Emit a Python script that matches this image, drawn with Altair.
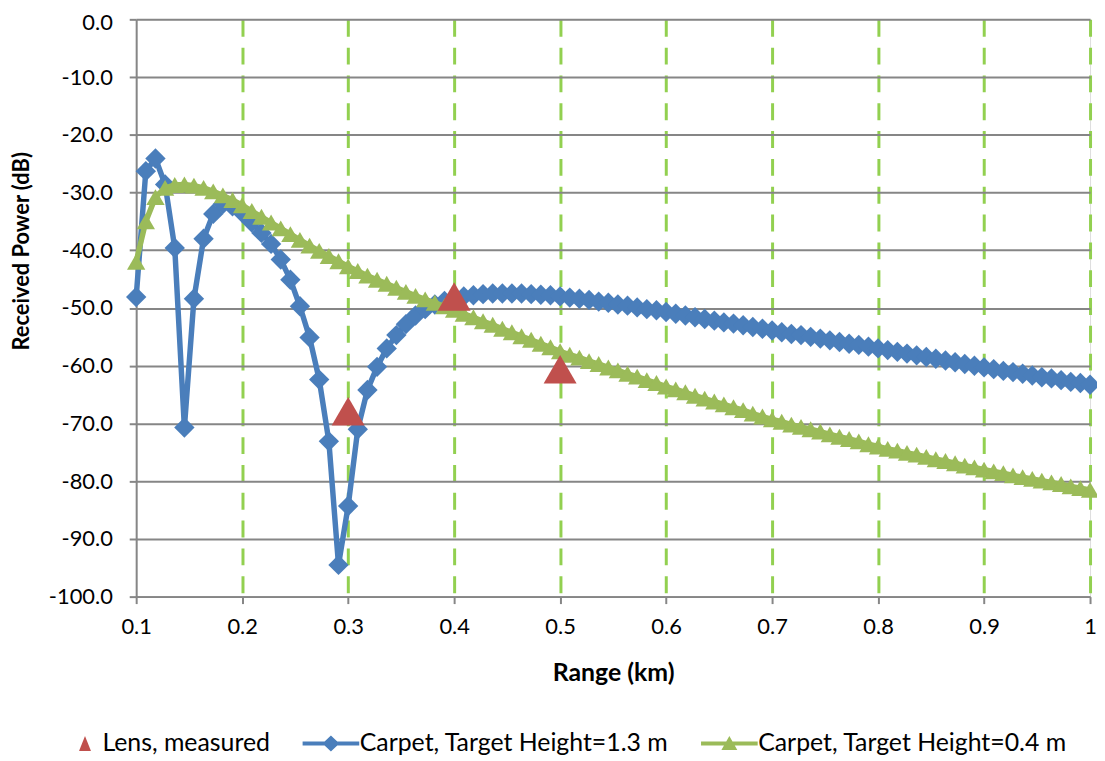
import altair as alt
import pandas as pd

# ---------------- data ----------------
range_km = [
    0.1, 0.1091, 0.1182, 0.1273, 0.1364, 0.1455, 0.1545, 0.1636, 0.1727, 0.1818, 0.1909,
    0.2, 0.2091, 0.2182, 0.2273, 0.2364, 0.2455, 0.2545, 0.2636, 0.2727, 0.2818, 0.2909,
    0.3, 0.3091, 0.3182, 0.3273, 0.3364, 0.3455, 0.3545, 0.3636, 0.3727, 0.3818, 0.3909,
    0.4, 0.4091, 0.4182, 0.4273, 0.4364, 0.4455, 0.4545, 0.4636, 0.4727, 0.4818, 0.4909,
    0.5, 0.5091, 0.5182, 0.5273, 0.5364, 0.5455, 0.5545, 0.5636, 0.5727, 0.5818, 0.5909,
    0.6, 0.6091, 0.6182, 0.6273, 0.6364, 0.6455, 0.6545, 0.6636, 0.6727, 0.6818, 0.6909,
    0.7, 0.7091, 0.7182, 0.7273, 0.7364, 0.7455, 0.7545, 0.7636, 0.7727, 0.7818, 0.7909,
    0.8, 0.8091, 0.8182, 0.8273, 0.8364, 0.8455, 0.8545, 0.8636, 0.8727, 0.8818, 0.8909,
    0.9, 0.9091, 0.9182, 0.9273, 0.9364, 0.9455, 0.9545, 0.9636, 0.9727, 0.9818, 0.9909,
    1.0,
]

carpet_13m = [
    -48.1, -26.3, -24.1, -28.6, -39.6, -70.7, -48.4, -38.0, -33.7, -32.0, -32.4,
    -33.5, -35.2, -37.0, -38.9, -41.6, -45.1, -49.7, -55.1, -62.4, -73.1, -94.5,
    -84.3, -71.0, -64.2, -60.2, -57.0, -54.7, -52.8, -51.3, -50.2, -49.4, -48.8,
    -48.3, -48.0, -47.8, -47.6, -47.5, -47.5, -47.5, -47.5, -47.6, -47.7, -47.8,
    -48.0, -48.2, -48.4, -48.6, -48.9, -49.1, -49.4, -49.6, -49.9, -50.2, -50.4,
    -50.7, -51.0, -51.3, -51.6, -51.9, -52.2, -52.5, -52.7, -53.0, -53.3, -53.6,
    -53.9, -54.2, -54.5, -54.7, -55.0, -55.3, -55.6, -55.9, -56.2, -56.4, -56.7,
    -57.0, -57.3, -57.6, -57.9, -58.2, -58.5, -58.8, -59.1, -59.4, -59.7, -60.0,
    -60.3, -60.6, -60.9, -61.1, -61.4, -61.7, -62.0, -62.2, -62.5, -62.8, -63.0,
    -63.3,
]

carpet_04m = [
    -42.0, -35.0, -30.8, -29.2, -28.7, -28.6, -28.8, -29.2, -29.8, -30.5, -31.3,
    -32.2, -33.2, -34.2, -35.2, -36.2, -37.2, -38.2, -39.2, -40.1, -41.0, -41.9,
    -42.8, -43.6, -44.4, -45.1, -45.8, -46.5, -47.2, -47.9, -48.5, -49.1, -49.7,
    -50.3, -51.0, -51.6, -52.3, -52.9, -53.6, -54.2, -54.9, -55.5, -56.2, -56.8,
    -57.5, -58.1, -58.6, -59.2, -59.7, -60.3, -60.8, -61.4, -61.9, -62.5, -63.0,
    -63.6, -64.1, -64.6, -65.2, -65.7, -66.2, -66.7, -67.2, -67.7, -68.3, -68.8,
    -69.3, -69.7, -70.2, -70.6, -71.0, -71.4, -71.9, -72.3, -72.7, -73.1, -73.6,
    -74.0, -74.4, -74.7, -75.1, -75.4, -75.8, -76.2, -76.5, -76.9, -77.3, -77.6,
    -78.0, -78.3, -78.6, -79.0, -79.3, -79.6, -79.9, -80.2, -80.5, -80.9, -81.2,
    -81.5,
]

lens_range = [0.3, 0.4, 0.5]
lens_power = [-67.9, -48.0, -60.6]

series_names = ["Lens, measured", "Carpet, Target Height=1.3 m", "Carpet, Target Height=0.4 m"]
x_ticks = [0.1, 0.2, 0.3, 0.4, 0.5, 0.6, 0.7, 0.8, 0.9, 1.0]
y_ticks = [-100, -90, -80, -70, -60, -50, -40, -30, -20, -10, 0]

# ---------------- styling ----------------
FONT = "Lato"
BLUE = "#4A7EBB"
GREEN = "#9BBB59"
RED = "#C0504D"
GRID_GREEN = "#92D050"
AXIS_GRAY = "#868686"

df13 = pd.DataFrame({"range": range_km, "power": carpet_13m})
df04 = pd.DataFrame({"range": range_km, "power": carpet_04m})
dflens = pd.DataFrame({"range": lens_range, "power": lens_power})
# legend-only rows, placed outside the plotted domain and clipped away
dflegend = pd.DataFrame({"series": series_names, "range": [5.0] * 3, "power": [50.0] * 3})

x_axis = alt.Axis(
    values=x_ticks,
    labelExpr="datum.value == 1 ? '1' : format(datum.value, '.1f')",
    title="Range (km)",
    grid=True,
    gridColor=GRID_GREEN,
    gridWidth=3,
    gridDash=[17, 11],
    gridOpacity={"condition": {"test": "datum.value < 0.15", "value": 0}, "value": 1},
    domainColor=AXIS_GRAY,
    domainWidth=2,
    tickColor=AXIS_GRAY,
    tickWidth=2,
    tickSize=7,
    labelPadding=13,
    labelFont=FONT,
    labelFontSize=22,
    labelColor="black",
    labelFlush=False,
    labelOverlap=False,
    titleFont=FONT,
    titleFontSize=25,
    titleFontWeight="bold",
    titleColor="black",
    titleY=76,
    titleBaseline="middle",
)

y_axis = alt.Axis(
    values=y_ticks,
    labelExpr="(datum.value < 0 ? '-' : '') + format(abs(datum.value), '.1f')",
    title="Received Power (dB)",
    grid=True,
    gridColor=AXIS_GRAY,
    gridWidth=2,
    domainColor=AXIS_GRAY,
    domainWidth=2,
    tickColor=AXIS_GRAY,
    tickWidth=2,
    tickSize=7,
    labelPadding=17,
    labelOffset={"condition": {"test": "datum.value > -5", "value": 3}, "value": 0},
    labelFont=FONT,
    labelFontSize=22,
    labelColor="black",
    labelFlush=False,
    labelOverlap=False,
    titleFont=FONT,
    titleFontSize=22,
    titleFontWeight="bold",
    titleColor="black",
    titleAngle=270,
    titleX=-115,
    titleY=233,
    titleAlign="center",
    titleBaseline="middle",
)

x_enc = alt.X("range:Q", scale=alt.Scale(domain=[0.1, 1.0], nice=False, zero=False), axis=x_axis)
y_enc = alt.Y("power:Q", scale=alt.Scale(domain=[-100, 0], nice=False, zero=False), axis=y_axis)

blue_line = alt.Chart(df13).mark_line(color=BLUE, strokeWidth=5.5).encode(x=x_enc, y=y_enc)
blue_pts = alt.Chart(df13).mark_point(
    shape="diamond", filled=True, color=BLUE, size=420, opacity=1
).encode(x=x_enc, y=y_enc)

green_line = alt.Chart(df04).mark_line(color=GREEN, strokeWidth=5.5).encode(x=x_enc, y=y_enc)
green_pts = alt.Chart(df04).mark_point(
    shape="triangle-up", filled=True, color=GREEN, size=340, opacity=1
).encode(x=x_enc, y=y_enc)

red_pts = alt.Chart(dflens).mark_point(
    shape="triangle-up", filled=True, color=RED, size=1100, opacity=1
).encode(x=x_enc, y=y_enc)

# legend symbols: marker alone, or marker on a short line
sym_red = "M0,-1.5L1.2,1.5L-1.2,1.5Z"
sym_blue = "M-8.0,-0.4L3.4,-0.4L3.4,0.4L-8.0,0.4Z M-4.0,0L-2.3,-1.6L-0.6,0L-2.3,1.6Z"
sym_green = "M-8.0,-0.4L3.4,-0.4L3.4,0.4L-8.0,0.4Z M-2.3,-1.5L-0.7,1.3L-3.9,1.3Z"

legend = alt.Legend(
    title=None,
    orient="none",
    legendX=-64,
    legendY=716,
    direction="horizontal",
    columns=3,
    symbolSize=100,
    symbolStrokeWidth=0,
    labelFont=FONT,
    labelFontSize=25,
    labelColor="black",
    labelOffset=5,
    labelLimit=1000,
    columnPadding=32,
    padding=0,
)

legend_layer = alt.Chart(dflegend).mark_point(filled=True, opacity=1, clip=True).encode(
    x=x_enc,
    y=y_enc,
    color=alt.Color("series:N", scale=alt.Scale(domain=series_names, range=[RED, BLUE, GREEN]), legend=legend),
    shape=alt.Shape("series:N", scale=alt.Scale(domain=series_names, range=[sym_red, sym_blue, sym_green]), legend=legend),
)

chart = alt.layer(
    blue_line, blue_pts, green_line, green_pts, red_pts, legend_layer
).properties(
    width=960,
    height=581,
    autosize=alt.AutoSizeParams(type="none"),
    padding={"left": 129, "top": 9, "right": 7, "bottom": 160},
).configure_view(
    stroke=None
).configure(
    background="white",
    font=FONT,
)

chart.save("out.html", embed_options={"renderer": "svg", "actions": False})
